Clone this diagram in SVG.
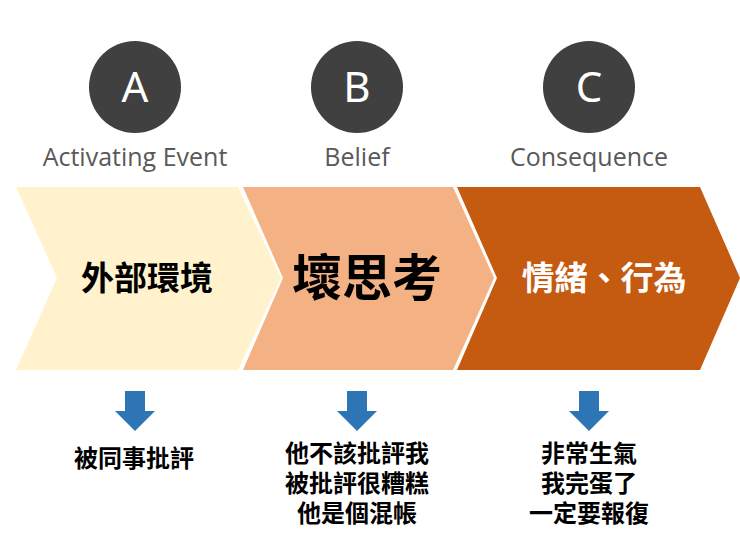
<svg xmlns="http://www.w3.org/2000/svg" width="740" height="558" viewBox="0 0 740 558">
<style>
.c{fill:#404040}
.l{font-family:"Open Sans","Noto Sans",sans-serif;font-size:25px;fill:#595959;text-anchor:middle}
.L{font-family:"Noto Sans",sans-serif;font-size:42px;fill:#fff;text-anchor:middle}
.t{font-family:"Noto Sans CJK TC",sans-serif;font-weight:bold;text-anchor:middle}
.b{font-family:"Noto Sans CJK TC",sans-serif;font-weight:bold;font-size:24px;fill:#000;text-anchor:middle}
.a{fill:#2E75B6}
</style>
<rect width="740" height="558" fill="#fff"/>
<g id="A"><circle class="c" cx="135" cy="87" r="46"/><text class="L" x="135" y="102">A</text><text class="l" x="135" y="166">Activating Event</text></g>
<g id="B"><circle class="c" cx="357" cy="87" r="46"/><text class="L" x="357" y="102">B</text><text class="l" x="357" y="166">Belief</text></g>
<g id="C"><circle class="c" cx="589" cy="87" r="46"/><text class="L" x="589" y="102">C</text><text class="l" x="589" y="166">Consequence</text></g>
<g id="chev1"><polygon points="16,187 238,187 281,278 238,370 16,370 57,278" fill="#FFF2CC"/><text class="t" x="147" y="290" font-size="33" fill="#000">外部環境</text></g>
<g id="chev2"><polygon points="243,187 453,187 494,278 453,370 243,370 283,278" fill="#F4B183"/><text class="t" x="367" y="296" font-size="50" fill="#000">壞思考</text></g>
<g id="chev3"><polygon points="457,187 700,187 740,278 700,370 457,370 497,278" fill="#C55A11"/><text class="t" x="604" y="290" font-size="33" fill="#fff">情緒、行為</text></g>
<g id="connectors">
<polygon class="a" points="125,391 145,391 145,411 155,411 135,431 115,411 125,411"/>
<polygon class="a" points="347,391 367,391 367,411 377,411 357,431 337,411 347,411"/>
<polygon class="a" points="579,391 599,391 599,411 609,411 589,431 569,411 579,411"/>
</g>
<g id="t1"><text class="b" x="134" y="467" font-size="28">被同事批評</text></g>
<g id="t2"><text class="b" x="357" y="462">他不該批評我</text><text class="b" x="357" y="492">被批評很糟糕</text><text class="b" x="357" y="522">他是個混帳</text></g>
<g id="t3"><text class="b" x="589" y="462">非常生氣</text><text class="b" x="589" y="492">我完蛋了</text><text class="b" x="589" y="522">一定要報復</text></g>
</svg>
